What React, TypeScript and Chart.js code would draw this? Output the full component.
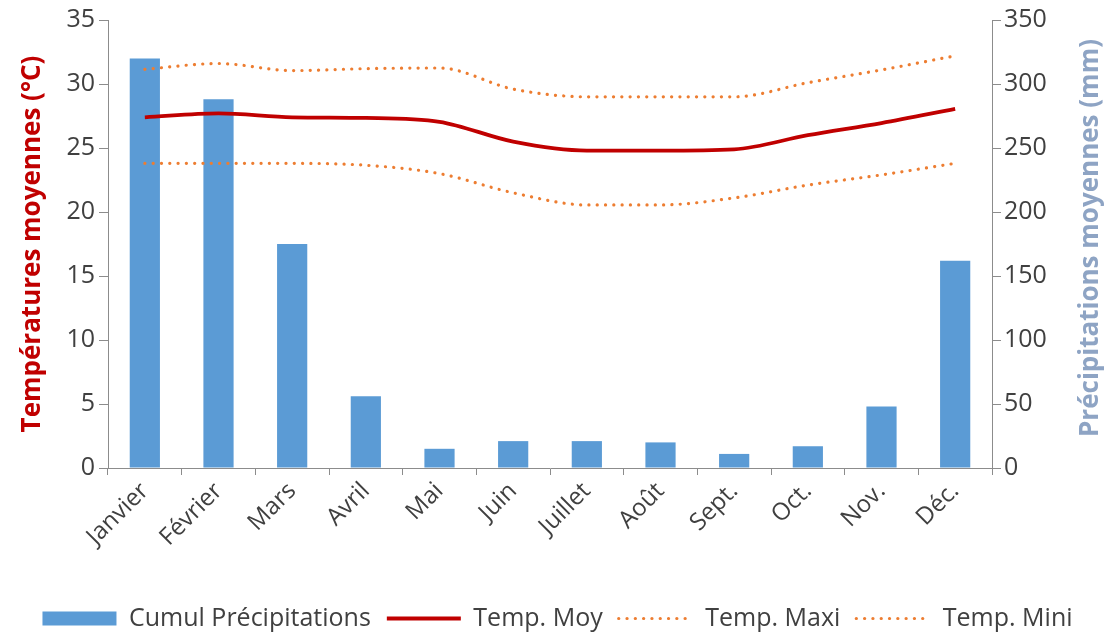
import React, { useEffect, useRef } from 'react';
import { Chart, registerables } from 'chart.js';

Chart.register(...registerables);

const months = ['Janvier', 'Février', 'Mars', 'Avril', 'Mai', 'Juin', 'Juillet', 'Août', 'Sept.', 'Oct.', 'Nov.', 'Déc.'];
const precipitations = [320, 288, 175, 56, 15, 21, 21, 20, 11, 17, 48, 162];
const tempMoy = [27.4, 27.7, 27.4, 27.35, 27.05, 25.5, 24.8, 24.8, 24.9, 26.0, 26.95, 28.05];
const tempMaxi = [31.15, 31.6, 31.05, 31.2, 31.25, 29.6, 29.0, 29.0, 29.0, 30.1, 31.1, 32.2];
const tempMini = [23.8, 23.8, 23.8, 23.65, 23.0, 21.5, 20.55, 20.55, 21.1, 22.1, 22.9, 23.8];

const seriesNames = ['Cumul Précipitations', 'Temp. Moy', 'Temp. Maxi', 'Temp. Mini'];
const leftTitle = 'Températures moyennes (°C)';
const rightTitle = 'Précipitations moyennes (mm)';
const tempAxis = { min: 0, max: 35, step: 5 };
const precAxis = { min: 0, max: 350, step: 50 };

const FONT = '"Open Sans", "DejaVu Sans", sans-serif';
const BAR = '#5B9BD5';
const RED = '#C00000';
const ORANGE = '#ED7D31';
const AXIS = '#8C8C8C';
const TEXT = '#404040';
const DOTS = [0.1, 8.2];

export default function App() {
  const ref = useRef<HTMLCanvasElement | null>(null);

  useEffect(() => {
    if (!ref.current) return;
    const rightTitlePlugin = {
      id: 'rightTitle',
      afterDraw(chart: any) {
        const s = chart.scales.y1;
        const ctx = chart.ctx;
        ctx.save();
        ctx.translate(s.right - 24, (s.top + s.bottom) / 2 - 6);
        ctx.rotate(-Math.PI / 2);
        ctx.font = `bold 26px ${FONT}`;
        ctx.fillStyle = '#8EA4C4';
        ctx.textAlign = 'center';
        ctx.textBaseline = 'middle';
        ctx.fillText(rightTitle, 0, 0);
        ctx.restore();
      },
    };

    const chart = new Chart(ref.current, {
      type: 'bar',
      data: {
        labels: months,
        datasets: [
          {
            type: 'bar',
            label: seriesNames[0],
            data: precipitations,
            backgroundColor: BAR,
            yAxisID: 'y1',
            barPercentage: 0.41,
            categoryPercentage: 1,
            order: 2,
          },
          {
            type: 'line',
            label: seriesNames[1],
            data: tempMoy,
            borderColor: RED,
            borderWidth: 3.8,
            pointRadius: 0,
            cubicInterpolationMode: 'monotone',
            yAxisID: 'y',
            order: 0,
          },
          {
            type: 'line',
            label: seriesNames[2],
            data: tempMaxi,
            borderColor: ORANGE,
            borderWidth: 3.2,
            borderDash: DOTS,
            borderCapStyle: 'round',
            pointRadius: 0,
            cubicInterpolationMode: 'monotone',
            yAxisID: 'y',
            order: 1,
          },
          {
            type: 'line',
            label: seriesNames[3],
            data: tempMini,
            borderColor: ORANGE,
            borderWidth: 3.2,
            borderDash: DOTS,
            borderCapStyle: 'round',
            pointRadius: 0,
            cubicInterpolationMode: 'monotone',
            yAxisID: 'y',
            order: 1,
          },
        ] as any,
      },
      options: {
        animation: false,
        responsive: false,
        devicePixelRatio: 1,
        layout: { padding: { top: 20, left: 0, right: 0, bottom: -6 } },
        plugins: {
          tooltip: { enabled: false },
          legend: {
            position: 'bottom',
            labels: {
              usePointStyle: true,
              pointStyleWidth: 74,
              boxHeight: 14,
              padding: 16,
              color: TEXT,
              font: { family: FONT, size: 25 },
              generateLabels: () => [
                { text: seriesNames[0], fillStyle: BAR, strokeStyle: BAR, lineWidth: 0, pointStyle: 'rect', hidden: false, datasetIndex: 0, fontColor: TEXT },
                { text: seriesNames[1], fillStyle: RED, strokeStyle: RED, lineWidth: 3.8, pointStyle: 'line', hidden: false, datasetIndex: 1, fontColor: TEXT },
                { text: seriesNames[2], fillStyle: ORANGE, strokeStyle: ORANGE, lineWidth: 3.2, lineDash: DOTS, lineCap: 'round', pointStyle: 'line', hidden: false, datasetIndex: 2, fontColor: TEXT },
                { text: seriesNames[3], fillStyle: ORANGE, strokeStyle: ORANGE, lineWidth: 3.2, lineDash: DOTS, lineCap: 'round', pointStyle: 'line', hidden: false, datasetIndex: 3, fontColor: TEXT },
              ] as any,
            },
          },
        },
        scales: {
          x: {
            type: 'category',
            offset: true,
            grid: { display: true, drawOnChartArea: false, drawTicks: true, tickLength: 7, color: AXIS, offset: true },
            border: { display: true, color: AXIS, width: 1 },
            ticks: {
              minRotation: 45,
              maxRotation: 45,
              color: TEXT,
              padding: 2,
              font: { family: FONT, size: 24 },
            },
            afterFit: (s: any) => { s.height = 122; },
          },
          y: {
            type: 'linear',
            position: 'left',
            min: tempAxis.min,
            max: tempAxis.max,
            ticks: { stepSize: tempAxis.step, color: TEXT, padding: 4, font: { family: FONT, size: 25 } },
            grid: { display: true, drawOnChartArea: false, drawTicks: true, tickLength: 9, color: AXIS },
            border: { display: true, color: AXIS, width: 1 },
            title: {
              display: true,
              text: leftTitle,
              color: RED,
              padding: { top: 17, bottom: 0 },
              font: { family: FONT, size: 26, weight: 'bold' },
            },
            afterFit: (s: any) => { s.width = 108; },
          },
          y1: {
            type: 'linear',
            position: 'right',
            min: precAxis.min,
            max: precAxis.max,
            ticks: { stepSize: precAxis.step, color: TEXT, padding: 3, font: { family: FONT, size: 25 } },
            grid: { display: true, drawOnChartArea: false, drawTicks: true, tickLength: 9, color: AXIS },
            border: { display: true, color: AXIS, width: 1 },
            afterFit: (s: any) => { s.width = 123; },
          },
        },
      } as any,
      plugins: [rightTitlePlugin],
    });
    return () => chart.destroy();
  }, []);

  return (
    <div style={{ position: 'absolute', left: 0, top: 0, width: 1115, height: 635, background: '#fff' }}>
      <canvas ref={ref} width={1115} height={635} style={{ display: 'block' }} />
    </div>
  );
}
